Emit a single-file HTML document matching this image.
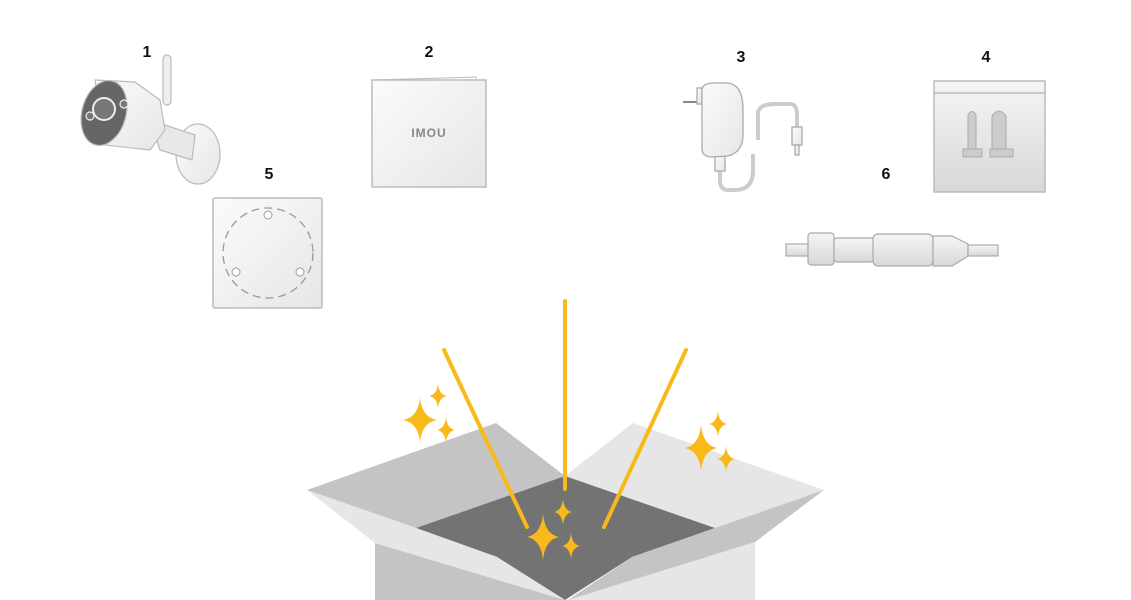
<!DOCTYPE html>
<html><head><meta charset="utf-8"><style>
html,body{margin:0;padding:0;background:#fff;width:1131px;height:600px;overflow:hidden}
svg{display:block}
text{font-family:"Liberation Sans",sans-serif;font-weight:bold;font-size:16px;fill:#111}
</style></head><body>
<svg width="1131" height="600" viewBox="0 0 1131 600" xmlns="http://www.w3.org/2000/svg">
<defs>
<linearGradient id="g" x1="0" y1="0" x2="1" y2="1"><stop offset="0" stop-color="#fbfbfb"/><stop offset="1" stop-color="#e6e6e6"/></linearGradient>
<linearGradient id="gh" x1="0" y1="0" x2="0" y2="1"><stop offset="0" stop-color="#f5f5f5"/><stop offset="1" stop-color="#d8d8d8"/></linearGradient>
<path id="s" d="M0,-1 Q0.12,-0.12 1,0 Q0.12,0.12 0,1 Q-0.12,0.12 -1,0 Q-0.12,-0.12 0,-1 Z"/>
</defs>
<text x="147" y="57" text-anchor="middle">1</text>
<text x="429" y="57" text-anchor="middle">2</text>
<text x="741" y="62" text-anchor="middle">3</text>
<text x="986" y="62" text-anchor="middle">4</text>
<text x="269" y="179" text-anchor="middle">5</text>
<text x="886" y="179" text-anchor="middle">6</text>

<!-- camera -->
<g stroke="#bbb" stroke-width="1.2">
<rect x="163" y="55" width="8" height="50" rx="4" fill="#eee"/>
<ellipse cx="198" cy="154" rx="22" ry="30" fill="url(#g)"/>
<path d="M150 120 L195 135 L192 160 L160 150 Z" fill="#e8e8e8"/>
<path d="M95 80 L135 82 L160 100 L165 130 L150 150 L105 145 Z" fill="url(#g)"/>
<ellipse cx="104" cy="113" rx="22" ry="33" fill="#666" transform="rotate(15 104 113)"/>
<circle cx="104" cy="109" r="11" fill="#777" stroke="#eee" stroke-width="2"/>
<circle cx="90" cy="116" r="4" fill="#777" stroke="#eee"/>
<circle cx="124" cy="104" r="4" fill="#777" stroke="#eee"/>
</g>

<!-- manual -->
<path d="M373 80 L476 77 L476 82" fill="none" stroke="#bbb"/>
<rect x="372" y="80" width="114" height="107" fill="url(#g)" stroke="#bbb" stroke-width="1.5"/>
<text x="429" y="137" text-anchor="middle" style="font-size:12px;fill:#888;letter-spacing:1px">IMOU</text>

<!-- mount plate -->
<rect x="213" y="198" width="109" height="110" rx="2" fill="url(#g)" stroke="#bbb" stroke-width="1.5"/>
<circle cx="268" cy="253" r="45" fill="none" stroke="#999" stroke-width="1.3" stroke-dasharray="8 5"/>
<circle cx="268" cy="215" r="4" fill="#fff" stroke="#999"/>
<circle cx="236" cy="272" r="4" fill="#fff" stroke="#999"/>
<circle cx="300" cy="272" r="4" fill="#fff" stroke="#999"/>

<!-- adapter -->
<g stroke="#aaa" stroke-width="1.3" fill="url(#g)">
<path d="M683 102 L698 102" stroke="#888" stroke-width="2"/>
<rect x="697" y="88" width="5" height="16"/>
<path d="M753 154 L753 170 Q753 190 735 190 L728 190 Q720 190 720 180 L720 165" fill="none" stroke-width="4" stroke="#ccc"/>
<path d="M758 140 L758 112 Q760 104 775 104 L790 104 Q797 104 797 115 L797 128" fill="none" stroke-width="4" stroke="#ccc"/>
<rect x="715" y="155" width="10" height="16"/>
<path d="M702 90 Q702 83 715 83 L726 83 Q743 83 743 110 L743 135 Q743 152 728 156 L712 157 Q702 157 702 148 Z"/>
<rect x="792" y="127" width="10" height="18"/>
<rect x="795" y="145" width="4" height="10"/>
</g>

<!-- bag -->
<rect x="934" y="81" width="111" height="111" fill="url(#gh)" stroke="#bbb" stroke-width="1.5"/>
<line x1="934" y1="93" x2="1045" y2="93" stroke="#bbb" stroke-width="1.5"/>
<g fill="#ccc" stroke="#aaa">
<path d="M968 149 L968 115 Q972 108 976 115 L976 149 Z"/>
<rect x="963" y="149" width="19" height="8"/>
<path d="M992 149 L992 116 Q999 106 1006 116 L1006 149 Z"/>
<rect x="990" y="149" width="23" height="8"/>
</g>

<!-- connector -->
<g stroke="#aaa" stroke-width="1.2" fill="url(#gh)">
<rect x="786" y="244" width="25" height="12"/>
<rect x="808" y="233" width="26" height="32" rx="3"/>
<rect x="834" y="238" width="40" height="24" rx="3"/>
<rect x="873" y="234" width="60" height="32" rx="5"/>
<path d="M933 236 L952 236 L968 244 L968 256 L952 266 L933 266 Z"/>
<rect x="968" y="245" width="30" height="11"/>
</g>

<!-- box -->
<polygon points="307,490 496,423 565,476 416,528" fill="#c4c4c4"/>
<polygon points="633,423 824,490 715,528 565,476" fill="#e6e6e6"/>
<polygon points="416,528 565,476 715,528 632,557 565,600 497,557" fill="#737373"/>
<polygon points="375,543 565,600 375,600" fill="#c4c4c4"/>
<polygon points="755,542 755,600 568,600" fill="#e6e6e6"/>
<polygon points="307,490 416,528 497,557 565,600 375,543" fill="#e6e6e6"/>
<polygon points="715,528 824,490 755,542 568,600 632,557" fill="#c4c4c4"/>

<!-- rays -->
<g stroke="#f9b91a" stroke-width="4" stroke-linecap="round">
<line x1="565" y1="301" x2="565" y2="489"/>
<line x1="444" y1="350" x2="527" y2="527"/>
<line x1="686" y1="350" x2="604" y2="527"/>
</g>

<!-- sparkles -->
<g fill="#f9b91a">
<use href="#s" transform="translate(420 420) scale(17 22)"/>
<use href="#s" transform="translate(438 396) scale(9 12)"/>
<use href="#s" transform="translate(446 430) scale(9 13)"/>
<use href="#s" transform="translate(701 448) scale(16 23)"/>
<use href="#s" transform="translate(718 424) scale(9 13)"/>
<use href="#s" transform="translate(726 459) scale(9 13)"/>
<use href="#s" transform="translate(543 537) scale(16 23)"/>
<use href="#s" transform="translate(563 512) scale(9 13)"/>
<use href="#s" transform="translate(571 546) scale(9 13)"/>
</g>
</svg>
</body></html>
